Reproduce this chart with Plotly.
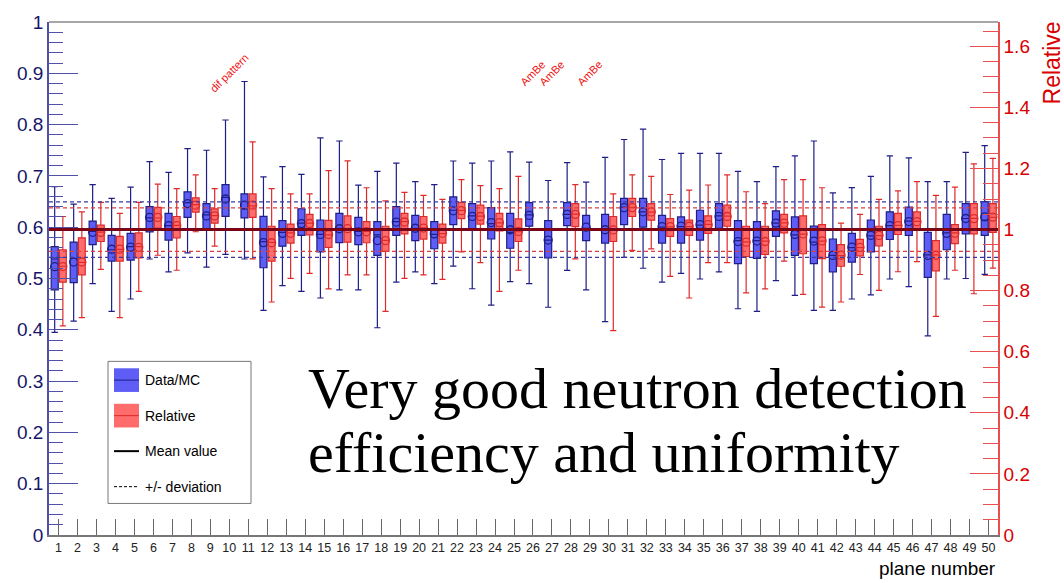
import plotly.graph_objects as go

# ---------------- data ----------------
planes = list(range(1, 51))

# Data/MC (left axis)
b_max = [0.679, 0.645, 0.683, 0.656, 0.678, 0.728, 0.707, 0.753, 0.750, 0.809,
         0.884, 0.698, 0.718, 0.703, 0.774, 0.768, 0.682, 0.709, 0.725, 0.689,
         0.683, 0.729, 0.725, 0.729, 0.747, 0.727, 0.691, 0.726, 0.688, 0.736,
         0.771, 0.791, 0.732, 0.744, 0.744, 0.744, 0.709, 0.689, 0.718, 0.739,
         0.768, 0.667, 0.677, 0.699, 0.739, 0.735, 0.689, 0.689, 0.746, 0.759]
b_q3 = [0.562, 0.571, 0.612, 0.584, 0.588, 0.640, 0.627, 0.669, 0.646, 0.683,
        0.665, 0.621, 0.613, 0.636, 0.614, 0.627, 0.619, 0.611, 0.640, 0.623,
        0.611, 0.659, 0.646, 0.638, 0.627, 0.648, 0.613, 0.648, 0.623, 0.625,
        0.656, 0.656, 0.623, 0.620, 0.633, 0.646, 0.613, 0.611, 0.632, 0.620,
        0.602, 0.577, 0.588, 0.614, 0.630, 0.639, 0.590, 0.625, 0.646, 0.650]
b_median = [0.538, 0.500, 0.592, 0.556, 0.562, 0.618, 0.603, 0.648, 0.624, 0.658,
            0.636, 0.572, 0.590, 0.608, 0.586, 0.598, 0.592, 0.585, 0.611, 0.598,
            0.586, 0.633, 0.622, 0.607, 0.590, 0.624, 0.575, 0.625, 0.598, 0.596,
            0.639, 0.630, 0.600, 0.601, 0.604, 0.622, 0.574, 0.574, 0.608, 0.585,
            0.571, 0.545, 0.560, 0.583, 0.603, 0.612, 0.546, 0.589, 0.617, 0.614]
b_q1 = [0.478, 0.492, 0.566, 0.534, 0.536, 0.591, 0.575, 0.619, 0.596, 0.621,
        0.618, 0.521, 0.563, 0.584, 0.552, 0.570, 0.566, 0.545, 0.584, 0.574,
        0.558, 0.605, 0.595, 0.577, 0.559, 0.602, 0.540, 0.603, 0.574, 0.569,
        0.605, 0.600, 0.569, 0.569, 0.575, 0.598, 0.529, 0.539, 0.582, 0.545,
        0.529, 0.513, 0.532, 0.552, 0.576, 0.584, 0.502, 0.556, 0.587, 0.584]
b_min = [0.395, 0.417, 0.490, 0.436, 0.460, 0.538, 0.513, 0.550, 0.522, 0.547,
         0.538, 0.438, 0.486, 0.475, 0.462, 0.478, 0.478, 0.404, 0.493, 0.513,
         0.490, 0.524, 0.480, 0.448, 0.494, 0.490, 0.444, 0.516, 0.478, 0.416,
         0.541, 0.520, 0.493, 0.510, 0.499, 0.513, 0.441, 0.436, 0.496, 0.467,
         0.438, 0.438, 0.460, 0.468, 0.499, 0.484, 0.388, 0.499, 0.500, 0.508]
b_mean = [0.523, 0.532, 0.590, 0.557, 0.561, 0.619, 0.603, 0.646, 0.622, 0.655,
          0.643, 0.570, 0.588, 0.607, 0.586, 0.597, 0.591, 0.574, 0.610, 0.598,
          0.587, 0.632, 0.621, 0.609, 0.595, 0.623, 0.575, 0.625, 0.600, 0.595,
          0.638, 0.630, 0.601, 0.602, 0.605, 0.621, 0.572, 0.573, 0.608, 0.586,
          0.573, 0.545, 0.561, 0.584, 0.603, 0.611, 0.545, 0.588, 0.617, 0.620]

# Relative (right axis); None = plane without relative value
N = None
r_max = [1.043, 1.058, 1.089, 1.053, 1.089, 1.149, 1.134, 1.179, 1.134, N,
         1.287, 1.134, 1.117, 1.117, 1.193, 1.225, 1.137, 1.094, 1.122, 1.112,
         1.099, 1.164, 1.144, 1.134, 1.174, N, N, 1.147, N, 1.117,
         1.179, 1.174, 1.115, 1.129, 1.146, 1.179, 1.124, 1.085, 1.164, 1.164,
         1.137, 1.021, 1.050, 1.099, 1.127, 1.157, 1.112, 1.139, 1.215, 1.233]
r_q3 = [0.934, 0.973, 1.015, 0.978, 0.989, 1.073, 1.043, 1.104, 1.068, N,
        1.117, 1.011, 1.018, 1.050, 1.030, 1.045, 1.026, 1.011, 1.053, 1.043,
        1.018, 1.089, 1.080, 1.053, 1.035, N, N, 1.085, N, 1.043,
        1.102, 1.085, 1.036, 1.031, 1.045, 1.080, 1.011, 1.011, 1.050, 1.045,
        1.016, 0.951, 0.968, 1.011, 1.053, 1.058, 0.964, 1.016, 1.085, 1.085]
r_median = [0.880, 0.893, 0.992, 0.935, 0.944, 1.038, 1.014, 1.082, 1.046, N,
            1.078, 0.958, 0.989, 1.021, 0.983, 1.004, 0.994, 0.965, 1.026, 1.006,
            0.987, 1.063, 1.044, 1.022, 0.993, N, N, 1.051, N, 1.000,
            1.073, 1.057, 1.009, 1.010, 1.017, 1.044, 0.960, 0.962, 1.022, 0.985,
            0.962, 0.915, 0.941, 0.980, 1.014, 1.027, 0.917, 0.989, 1.037, 1.040]
r_q1 = [0.828, 0.852, 0.961, 0.897, 0.907, 1.005, 0.973, 1.057, 1.021, N,
        1.040, 0.897, 0.956, 0.983, 0.942, 0.959, 0.957, 0.929, 0.986, 0.969,
        0.956, 1.036, 1.018, 0.996, 0.961, N, N, 1.010, N, 0.961,
        1.043, 1.031, 0.978, 0.981, 0.988, 1.011, 0.912, 0.919, 0.989, 0.921,
        0.905, 0.880, 0.914, 0.947, 0.984, 0.999, 0.865, 0.954, 0.986, 0.991]
r_min = [0.685, 0.712, 0.870, 0.712, 0.798, 0.916, 0.867, 0.993, 0.946, N,
         0.904, 0.763, 0.840, 0.857, 0.806, 0.852, 0.852, 0.732, 0.840, 0.852,
         0.837, 0.927, 0.892, 0.798, 0.867, N, N, 0.904, N, 0.669,
         0.932, 0.937, 0.847, 0.776, 0.892, 0.892, 0.793, 0.806, 0.897, 0.788,
         0.746, 0.763, 0.853, 0.801, 0.862, 0.895, 0.716, 0.867, 0.790, 0.874]
r_mean = [0.879, 0.894, 0.991, 0.936, 0.942, 1.040, 1.013, 1.080, 1.045, N,
          1.080, 0.957, 0.988, 1.020, 0.984, 1.003, 0.993, 0.964, 1.025, 1.005,
          0.988, 1.062, 1.043, 1.023, 0.994, N, N, 1.050, N, 0.999,
          1.072, 1.058, 1.010, 1.011, 1.016, 1.043, 0.959, 0.961, 1.021, 0.986,
          0.963, 0.916, 0.942, 0.981, 1.013, 1.026, 0.916, 0.988, 1.036, 1.041]

mean_abs = 0.5953        # mean value, Data/MC
dev_abs = 0.054          # deviation, Data/MC
mean_rel = 1.0           # mean value, Relative
dev_rel = 0.071          # deviation, Relative

notes = [(10, "dif pattern"), (26, "AmBe"), (27, "AmBe"), (29, "AmBe")]
note_level = 0.9

# ---------------- style ----------------
W, H = 1064, 579
L, R, T, B = 49, 998, 15, 535
BLUE_FILL = "rgba(72,72,245,0.88)"
BLUE_LINE = "#1e1e86"
RED_FILL = "rgba(255,82,82,0.85)"
RED_LINE = "#e02a2a"
NAVY = "#161668"
REDTXT = "#d80000"


def px(x):
    return (x - L) / (R - L)


def py(y):
    return (B - y) / (B - T)


fig = go.Figure()

# Data/MC candles
xb = [p - 0.2 for p in planes]
fig.add_trace(go.Box(
    x=xb, q1=b_q1, median=b_median, q3=b_q3, lowerfence=b_min, upperfence=b_max,
    width=0.37, whiskerwidth=0.9, fillcolor=BLUE_FILL,
    line=dict(color=BLUE_LINE, width=1.2), boxpoints=False, showlegend=False,
    yaxis="y", name="Data/MC"))
fig.add_trace(go.Scatter(
    x=xb, y=b_mean, mode="markers", yaxis="y", showlegend=False,
    marker=dict(symbol="circle-open", size=8, color=BLUE_LINE, line=dict(width=1.3))))

# Relative candles
idx = [i for i in range(len(planes)) if r_q1[i] is not None]
xr = [planes[i] + 0.23 for i in idx]
fig.add_trace(go.Box(
    x=xr, q1=[r_q1[i] for i in idx], median=[r_median[i] for i in idx],
    q3=[r_q3[i] for i in idx], lowerfence=[r_min[i] for i in idx],
    upperfence=[r_max[i] for i in idx],
    width=0.36, whiskerwidth=0.9, fillcolor=RED_FILL,
    line=dict(color=RED_LINE, width=1.2), boxpoints=False, showlegend=False,
    yaxis="y2", name="Relative"))
fig.add_trace(go.Scatter(
    x=xr, y=[r_mean[i] for i in idx], mode="markers", yaxis="y2", showlegend=False,
    marker=dict(symbol="circle-open", size=8, color=RED_LINE, line=dict(width=1.3))))

shapes = []
# deviation lines
for v in (mean_abs + dev_abs, mean_abs - dev_abs):
    shapes.append(dict(type="line", xref="paper", yref="y", x0=0, x1=1, y0=v, y1=v,
                       line=dict(color="#3a3aa0", width=1.2, dash="4px,3px"), layer="above"))
for v in (mean_rel + dev_rel, mean_rel - dev_rel):
    shapes.append(dict(type="line", xref="paper", yref="y2", x0=0, x1=1, y0=v, y1=v,
                       line=dict(color="#d84040", width=1.2, dash="4px,3px"), layer="above"))
# mean lines
shapes.append(dict(type="line", xref="paper", yref="y", x0=0, x1=1, y0=mean_abs, y1=mean_abs,
                   line=dict(color=BLUE_LINE, width=3), layer="above"))
shapes.append(dict(type="line", xref="paper", yref="y2", x0=0, x1=1, y0=mean_rel, y1=mean_rel,
                   line=dict(color="#8c0000", width=2.5), layer="above"))
# top frame
shapes.append(dict(type="line", xref="paper", yref="paper", x0=0, x1=1, y0=1, y1=1,
                   line=dict(color="#888888", width=1.5)))

# legend box
shapes.append(dict(type="rect", xref="paper", yref="paper",
                   x0=px(108), x1=px(251), y0=py(503), y1=py(359),
                   line=dict(color="#777777", width=1), fillcolor="white", layer="above"))
shapes.append(dict(type="rect", xref="paper", yref="paper",
                   x0=px(114), x1=px(139), y0=py(390), y1=py(366),
                   line=dict(width=0), fillcolor=BLUE_FILL, layer="above"))
shapes.append(dict(type="line", xref="paper", yref="paper",
                   x0=px(114), x1=px(139), y0=py(378), y1=py(378),
                   line=dict(color=BLUE_LINE, width=1), layer="above"))
shapes.append(dict(type="rect", xref="paper", yref="paper",
                   x0=px(114), x1=px(139), y0=py(426), y1=py(402),
                   line=dict(width=0), fillcolor=RED_FILL, layer="above"))
shapes.append(dict(type="line", xref="paper", yref="paper",
                   x0=px(114), x1=px(139), y0=py(414), y1=py(414),
                   line=dict(color=RED_LINE, width=1), layer="above"))
shapes.append(dict(type="line", xref="paper", yref="paper",
                   x0=px(114), x1=px(139), y0=py(450), y1=py(450),
                   line=dict(color="black", width=2), layer="above"))
shapes.append(dict(type="line", xref="paper", yref="paper",
                   x0=px(114), x1=px(139), y0=py(486), y1=py(486),
                   line=dict(color="black", width=1, dash="3px,2px"), layer="above"))

annotations = []
for txt, yy in [("Data/MC", 378), ("Relative", 414), ("Mean value", 450), ("+/- deviation", 486)]:
    annotations.append(dict(text=txt, xref="paper", yref="paper", x=px(143), y=py(yy),
                            xanchor="left", yanchor="middle", showarrow=False,
                            font=dict(family="Liberation Sans", size=14, color="black")))

for p, txt in notes:
    annotations.append(dict(text=txt, xref="x", yref="y", x=p, y=note_level,
                            xanchor="center", yanchor="middle", showarrow=False, textangle=-45,
                            font=dict(family="Liberation Sans", size=11, color="#ee1111")))

annotations.append(dict(text="Very good neutron detection", xref="paper", yref="paper",
                        x=px(306), y=py(386), xanchor="left", yanchor="middle", showarrow=False,
                        font=dict(family="Liberation Serif", size=58, color="black")))
annotations.append(dict(text="efficiency and uniformity", xref="paper", yref="paper",
                        x=px(306), y=py(451), xanchor="left", yanchor="middle", showarrow=False,
                        font=dict(family="Liberation Serif", size=58, color="black")))

annotations.append(dict(text="plane number", xref="paper", yref="paper", x=1, y=py(569),
                        xanchor="right", yanchor="middle", showarrow=False,
                        font=dict(family="Liberation Sans", size=19, color="black")))
annotations.append(dict(text="Relative", xref="paper", yref="paper", x=px(1052), y=py(57),
                        xanchor="center", yanchor="middle", showarrow=False, textangle=-90,
                        font=dict(family="Liberation Sans", size=23, color=REDTXT)))

fig.update_layout(
    width=W, height=H,
    margin=dict(l=L, r=W - R, t=T, b=H - B, pad=0),
    paper_bgcolor="white", plot_bgcolor="white",
    showlegend=False,
    shapes=shapes, annotations=annotations,
    xaxis=dict(range=[0.5, 50.5], tickmode="array", tickvals=planes,
               ticktext=[str(p) for p in planes],
               ticks="inside", ticklen=16, tickwidth=1, tickcolor="#666666",
               showline=True, linecolor="#777777", linewidth=1.5,
               showgrid=False, zeroline=False,
               tickfont=dict(family="Liberation Sans", size=12.5, color="#222222")),
    yaxis=dict(range=[0, 1], dtick=0.1, ticks="inside", ticklen=29, tickwidth=1,
               tickcolor="#5050a8", showline=True, linecolor="#5050a8", linewidth=1.5,
               showgrid=False, zeroline=False,
               minor=dict(dtick=0.02, ticks="inside", ticklen=14, tickcolor="#5050a8"),
               tickfont=dict(family="Liberation Sans", size=19, color=NAVY)),
    yaxis2=dict(range=[0, 1 / mean_abs], dtick=0.2, overlaying="y", side="right",
                ticks="inside", ticklen=28, tickwidth=1, tickcolor="#e85050",
                showline=True, linecolor="#e85050", linewidth=1.5,
                showgrid=False, zeroline=False,
                minor=dict(dtick=0.05, ticks="inside", ticklen=15, tickcolor="#e85050"),
                tickfont=dict(family="Liberation Sans", size=19, color=REDTXT)),
)

fig.write_html("out.html")
